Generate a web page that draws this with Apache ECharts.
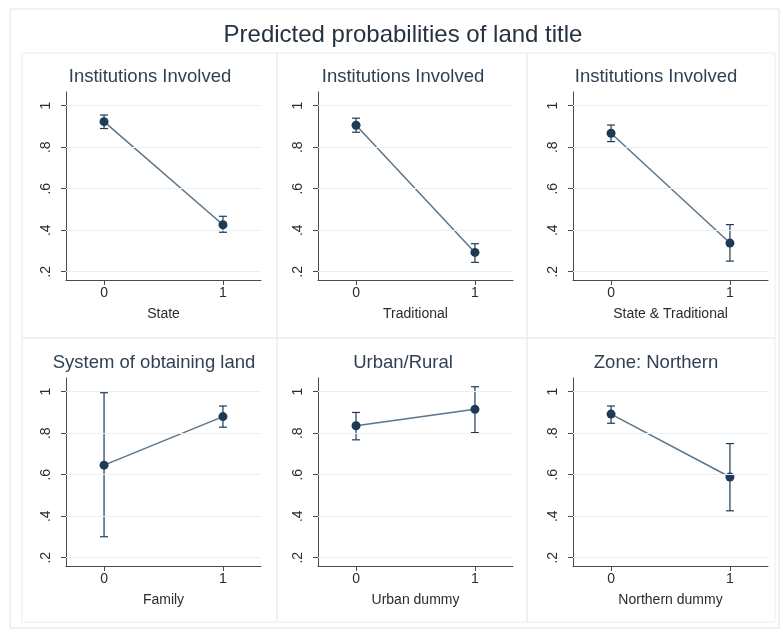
<!DOCTYPE html>
<html>
<head>
<meta charset="utf-8">
<title>Predicted probabilities of land title</title>
<script src="https://cdn.jsdelivr.net/npm/echarts@6/dist/echarts.min.js"></script>
<style>
  html, body { margin: 0; padding: 0; background: #ffffff; }
  #chart { width: 783px; height: 632px; }
</style>
</head>
<body>
<div id="chart"></div>
<script>
// Predicted probabilities (margins) with 95% confidence intervals

const mainTitle = 'Predicted probabilities of land title';

const panelTitles = [
  'Institutions Involved', 'Institutions Involved', 'Institutions Involved',
  'System of obtaining land', 'Urban/Rural', 'Zone: Northern'
];
const axisNames = [
  'State', 'Traditional', 'State & Traditional',
  'Family', 'Urban dummy', 'Northern dummy'
];

const xLevels = [0, 1];
const xTickLabels = ['0', '1'];
const yTickValues = [0.2, 0.4, 0.6, 0.8, 1];
const yTickLabels = ['.2', '.4', '.6', '.8', '1'];

// point estimates, lower and upper bounds per panel
const stateEst = [0.923, 0.426];
const stateLo  = [0.890, 0.390];
const stateHi  = [0.955, 0.467];

const tradEst = [0.906, 0.293];
const tradLo  = [0.872, 0.245];
const tradHi  = [0.940, 0.335];

const bothEst = [0.867, 0.338];
const bothLo  = [0.827, 0.251];
const bothHi  = [0.907, 0.427];

const familyEst = [0.646, 0.880];
const familyLo  = [0.301, 0.829];
const familyHi  = [0.995, 0.931];

const urbanEst = [0.836, 0.915];
const urbanLo  = [0.768, 0.803];
const urbanHi  = [0.900, 1.024];

const northEst = [0.892, 0.589];
const northLo  = [0.848, 0.426];
const northHi  = [0.931, 0.750];

const panels = [
  [stateEst, stateLo, stateHi],
  [tradEst, tradLo, tradHi],
  [bothEst, bothLo, bothHi],
  [familyEst, familyLo, familyHi],
  [urbanEst, urbanLo, urbanHi],
  [northEst, northLo, northHi]
];

// layout
const FONT = '"Liberation Sans", Arial, Helvetica, sans-serif';
const NAVY = '#1d3b57';
const LINE = '#5a7489';
const AXIS = '#4a4a4a';
const TEXT = '#2b2b2b';
const plotLefts = [66, 318, 573];
const plotWidth = 195;
const plotTops = [92, 378];
const plotHeight = 188;
const titleCenters = [[150, 77], [403, 77], [656, 77], [154, 363], [403, 363], [656, 363]];
const panelBoxes = [
  [22, 53, 255, 285], [277, 53, 250, 285], [527, 53, 248, 285],
  [22, 338, 255, 284], [277, 338, 250, 284], [527, 338, 248, 284]
];

const grids = [], xAxes = [], yAxes = [], series = [], graphics = [];

graphics.push({
  type: 'rect', shape: { x: 10, y: 9, width: 769, height: 619 },
  style: { fill: 'none', stroke: '#e2e2e2', lineWidth: 1 }, silent: true, z: -10
});
panelBoxes.forEach(b => graphics.push({
  type: 'rect', shape: { x: b[0], y: b[1], width: b[2], height: b[3] },
  style: { fill: 'none', stroke: '#ececec', lineWidth: 1 }, silent: true, z: -10
}));
graphics.push({
  type: 'text', x: 403, y: 35,
  style: { text: mainTitle, font: '24px ' + FONT, fill: '#26323f', align: 'center', verticalAlign: 'middle' }
});

panels.forEach((p, i) => {
  const col = i % 3, row = Math.floor(i / 3);
  const [est, lo, hi] = p;

  grids.push({ left: plotLefts[col], top: plotTops[row], width: plotWidth, height: plotHeight, containLabel: false });

  xAxes.push({
    type: 'value', gridIndex: i, min: -0.32, max: 1.32,
    name: axisNames[i], nameLocation: 'middle', nameGap: 27,
    nameTextStyle: { fontFamily: FONT, fontSize: 14, color: TEXT },
    axisLine: { show: true, onZero: false, lineStyle: { color: AXIS, width: 1 } },
    axisTick: { show: true, length: 5, customValues: xLevels, lineStyle: { color: AXIS } },
    axisLabel: {
      customValues: xLevels, margin: 6, fontFamily: FONT, fontSize: 14, color: TEXT,
      formatter: v => xTickLabels[xLevels.indexOf(v)]
    },
    splitLine: { show: false }
  });

  yAxes.push({
    type: 'value', gridIndex: i, min: 0.16, max: 1.066,
    axisLine: { show: true, onZero: false, lineStyle: { color: AXIS, width: 1 } },
    axisTick: { show: true, length: 5, customValues: yTickValues, lineStyle: { color: AXIS } },
    axisLabel: {
      customValues: yTickValues, rotate: 90, margin: 13, fontFamily: FONT, fontSize: 14, color: TEXT,
      formatter: v => yTickLabels[yTickValues.indexOf(v)]
    },
    splitLine: { show: false }
  });

  // faint horizontal rules at each labelled tick, kept beneath the data
  series.push({
    type: 'line', xAxisIndex: i, yAxisIndex: i, z: 1, data: [],
    markLine: {
      silent: true, symbol: 'none', label: { show: false }, animation: false,
      lineStyle: { color: '#eceff2', width: 1, type: 'solid' },
      data: yTickValues.map(v => ({ yAxis: v }))
    }
  });

  // confidence intervals with caps
  series.push({
    type: 'custom', xAxisIndex: i, yAxisIndex: i, z: 3,
    data: xLevels.map((x, k) => [x, lo[k], hi[k]]),
    encode: { x: 0, y: [1, 2] },
    renderItem: (params, api) => {
      const x = api.value(0);
      const top = api.coord([x, api.value(2)]);
      const bot = api.coord([x, api.value(1)]);
      const w = 4;
      const st = { stroke: NAVY, lineWidth: 1.2 };
      return {
        type: 'group',
        children: [
          { type: 'line', shape: { x1: top[0], y1: top[1], x2: bot[0], y2: bot[1] }, style: st },
          { type: 'line', shape: { x1: top[0] - w, y1: top[1], x2: top[0] + w, y2: top[1] }, style: st },
          { type: 'line', shape: { x1: bot[0] - w, y1: bot[1], x2: bot[0] + w, y2: bot[1] }, style: st }
        ]
      };
    }
  });

  // estimates joined by a line
  series.push({
    type: 'line', xAxisIndex: i, yAxisIndex: i, z: 4,
    data: xLevels.map((x, k) => [x, est[k]]),
    symbol: 'circle', symbolSize: 9,
    itemStyle: { color: NAVY },
    lineStyle: { color: LINE, width: 1.5 },
    animation: false
  });

  graphics.push({
    type: 'text', x: titleCenters[i][0], y: titleCenters[i][1],
    style: { text: panelTitles[i], font: '18.5px ' + FONT, fill: '#2f4254', align: 'center', verticalAlign: 'middle' }
  });
});

const chart = echarts.init(document.getElementById('chart'), null, { renderer: 'canvas' });
chart.setOption({
  backgroundColor: '#ffffff',
  animation: false,
  grid: grids,
  xAxis: xAxes,
  yAxis: yAxes,
  series: series,
  graphic: graphics
});
</script>
</body>
</html>
